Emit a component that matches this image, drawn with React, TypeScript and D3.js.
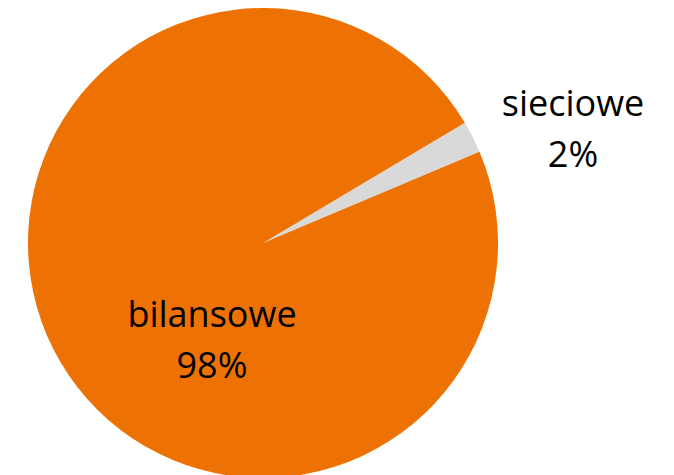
import React from "react";
import * as d3 from "d3";

const categories = ["sieciowe", "bilansowe"];
const values = [2.2, 97.8];
const percentLabels = ["2%", "98%"];
const colors = ["#D9D9D9", "#EE7203"];

const W = 674;
const H = 475;
const cx = 263;
const cy = 243;
const R = 235;
const startAngleDeg = 59.2;

// label anchor positions (layout)
const labelPos = [
  { x: 573, y: 116 },
  { x: 212, y: 327 },
];

export default function App() {
  const pie = d3
    .pie<number>()
    .sort(null)
    .value((d) => d)
    .startAngle((startAngleDeg * Math.PI) / 180)
    .endAngle((startAngleDeg * Math.PI) / 180 + 2 * Math.PI);
  const arcs = pie(values);
  const arc = d3.arc<d3.PieArcDatum<number>>().innerRadius(0).outerRadius(R);

  return (
    <svg
      width={W}
      height={H}
      style={{ position: "absolute", left: 0, top: 0, background: "#fff" }}
    >
      <g transform={`translate(${cx},${cy})`}>
        {arcs.map((a, i) => (
          <path key={i} d={arc(a) || ""} fill={colors[i]} />
        ))}
      </g>
      {categories.map((c, i) => (
        <text
          key={c}
          x={labelPos[i].x}
          y={labelPos[i].y}
          textAnchor="middle"
          fontFamily="'Open Sans', sans-serif"
          fontSize={36}
          fill="#000"
        >
          <tspan x={labelPos[i].x}>{c}</tspan>
          <tspan x={labelPos[i].x} dy={51}>
            {percentLabels[i]}
          </tspan>
        </text>
      ))}
    </svg>
  );
}
